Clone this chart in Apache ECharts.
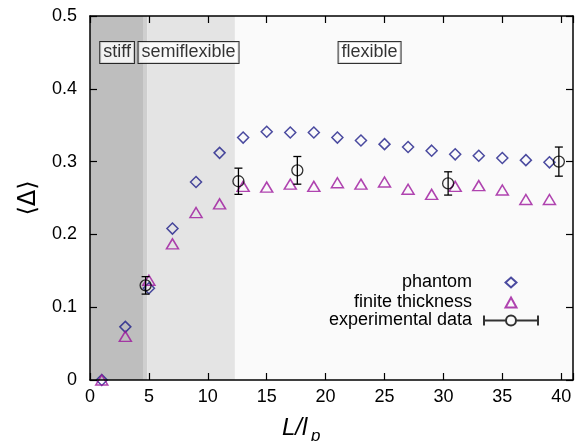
<!DOCTYPE html>
<html>
<head>
<meta charset="utf-8">
<script src="https://cdn.jsdelivr.net/npm/echarts@6/dist/echarts.min.js"></script>
<style>html,body{margin:0;padding:0;background:#fff}#c{width:578px;height:441px}</style>
</head>
<body>
<div id="c"></div>
<script>
// ---- data ----
const simX = [1,3,5,7,9,11,13,15,17,19,21,23,25,27,29,31,33,35,37,39];
const phantom = [0,0.073,0.126,0.208,0.272,0.312,0.333,0.341,0.340,0.340,0.333,0.329,0.324,0.320,0.315,0.310,0.308,0.305,0.302,0.299];
const finiteThickness = [0,0.060,0.137,0.187,0.230,0.242,0.266,0.265,0.269,0.266,0.271,0.269,0.272,0.262,0.255,0.266,0.267,0.261,0.248,0.248];
const expX = [4.72,12.6,17.6,30.4,39.8];
const expY = [0.130,0.273,0.288,0.270,0.300];
const expErr = [0.012,0.018,0.019,0.016,0.020];
const regionBounds = [0, 4.5, 4.85, 12.3, 41];
const annotText = ['stiff','semiflexible','flexible'];
const annotX = [0.87, 4.12, 21.1];
const annotY = [0.45, 0.45, 0.45];
const xTicks = [0,5,10,15,20,25,30,35,40];
const yTicks = [0,0.1,0.2,0.3,0.4,0.5];

// ---- styles ----
const FONT = '"Liberation Sans", Arial, Helvetica, sans-serif';
const regionColors = ['#bebebe','#cfcfcf','#e4e4e4','#fafafa'];
const cPhantom = '#1e1e88';
const cFinite = '#9c159c';

const chart = echarts.init(document.getElementById('c'), null, {renderer:'canvas'});

const markAreaData = [];
for (let i = 0; i < regionBounds.length - 1; i++) {
  markAreaData.push([
    {xAxis: regionBounds[i], yAxis: 0, itemStyle:{color: regionColors[i]}},
    {xAxis: regionBounds[i+1], yAxis: 0.5}
  ]);
}

const axisCommon = {
  axisLine:{show:true, onZero:false, lineStyle:{color:'#000', width:1.5}},
  axisTick:{show:true, inside:true, length:7, lineStyle:{color:'#000', width:1.2}},
  splitLine:{show:false},
  z: 10
};

const legendText = {fontSize:18, color:'#000', fontFamily:FONT};

const option = {
  animation:false,
  backgroundColor:'#ffffff',
  grid:{left:90, right:5, top:16, bottom:61},
  xAxis:[
    Object.assign({}, axisCommon, {
      type:'value', min:0, max:41, interval:5, position:'bottom',
      axisLabel:{show:true, fontSize:18, color:'#000', fontFamily:FONT, margin:8,
        formatter: v => xTicks.indexOf(v) >= 0 ? String(v) : ''}
    }),
    Object.assign({}, axisCommon, {
      type:'value', min:0, max:41, interval:5, position:'top',
      axisLabel:{show:false}
    })
  ],
  yAxis:[
    Object.assign({}, axisCommon, {
      type:'value', min:0, max:0.5, interval:0.1, position:'left',
      name:'⟨Δ⟩', nameLocation:'middle', nameRotate:90, nameGap:49,
      nameTextStyle:{fontSize:24, color:'#000', fontFamily:'"DejaVu Sans", sans-serif'},
      axisLabel:{show:true, fontSize:18, color:'#000', fontFamily:FONT, margin:13,
        formatter: v => { const m = yTicks.find(t => Math.abs(t - v) < 1e-9); return m === undefined ? '' : (m === 0 ? '0' : m.toFixed(1)); }}
    }),
    Object.assign({}, axisCommon, {
      type:'value', min:0, max:0.5, interval:0.1, position:'right',
      axisLabel:{show:false}
    })
  ],
  legend:[
    {
      data:['phantom','finite thickness'],
      orient:'vertical', align:'right', right:60.5, top:273.5, padding:0,
      itemWidth:11, itemHeight:10, itemGap:2,
      textStyle:Object.assign({padding:[0,28.5,0,0]}, legendText),
      selectedMode:false
    },
    {
      data:[{name:'experimental data', icon:'path://M0,5L22,5M32,5L54,5M0,0L0,10M54,0L54,10M22,5A5,5,0,1,1,32,5A5,5,0,1,1,22,5Z'}],
      orient:'vertical', align:'right', right:39, top:311.5, padding:0,
      itemWidth:54, itemHeight:10, itemGap:1,
      textStyle:Object.assign({padding:[0,7,0,0]}, legendText),
      selectedMode:false
    }
  ],
  graphic:[
    {type:'text', left:282, top:416, style:{text:'L/l', font:'italic 24px ' + FONT, fill:'#000'}},
    {type:'text', left:311, top:428, style:{text:'p', font:'italic 17px ' + FONT, fill:'#000'}}
  ],
  series:[
    {
      name:'regions', type:'scatter', data:[], z:1, silent:true,
      markArea:{silent:true, data: markAreaData, itemStyle:{borderWidth:0}}
    },
    {
      name:'annotations', type:'scatter', z:4, silent:true,
      data: annotX.map((x,i) => ({value:[x, annotY[i]], name: annotText[i]})),
      symbolSize:0,
      label:{show:true, position:'right', distance:0, formatter: p => p.name,
        fontSize:18, color:'#000', fontFamily:FONT,
        backgroundColor:'#fff', borderColor:'#000', borderWidth:1, padding:[2,3,1,3]}
    },
    {
      name:'phantom', type:'scatter', z:5,
      data: simX.map((x,i) => [x, phantom[i]]),
      symbol:'diamond', symbolSize:11,
      itemStyle:{color:'rgba(0,0,0,0)', borderColor:cPhantom, borderWidth:1.5}
    },
    {
      name:'finite thickness', type:'scatter', z:5,
      data: simX.map((x,i) => [x, finiteThickness[i]]),
      symbol:'triangle', symbolSize:[12,10],
      itemStyle:{color:'rgba(0,0,0,0)', borderColor:cFinite, borderWidth:1.5}
    },
    {
      name:'experimental data', type:'scatter', z:6,
      data: expX.map((x,i) => [x, expY[i]]),
      symbol:'circle', symbolSize:11,
      itemStyle:{color:'rgba(0,0,0,0)', borderColor:'#000', borderWidth:1.3}
    },
    {
      name:'errorbars', type:'custom', z:6, silent:true,
      data: expX.map((x,i) => [x, expY[i] - expErr[i], expY[i] + expErr[i]]),
      encode:{x:0, y:[1,2]},
      renderItem: function(params, api){
        const lo = api.coord([api.value(0), api.value(1)]);
        const hi = api.coord([api.value(0), api.value(2)]);
        const w = 4;
        const st = {stroke:'#000', lineWidth:1.3, fill:null};
        return {type:'group', children:[
          {type:'line', shape:{x1:lo[0], y1:lo[1], x2:hi[0], y2:hi[1]}, style:st},
          {type:'line', shape:{x1:lo[0]-w, y1:lo[1], x2:lo[0]+w, y2:lo[1]}, style:st},
          {type:'line', shape:{x1:hi[0]-w, y1:hi[1], x2:hi[0]+w, y2:hi[1]}, style:st}
        ]};
      }
    }
  ]
};
chart.setOption(option);
</script>
</body>
</html>
